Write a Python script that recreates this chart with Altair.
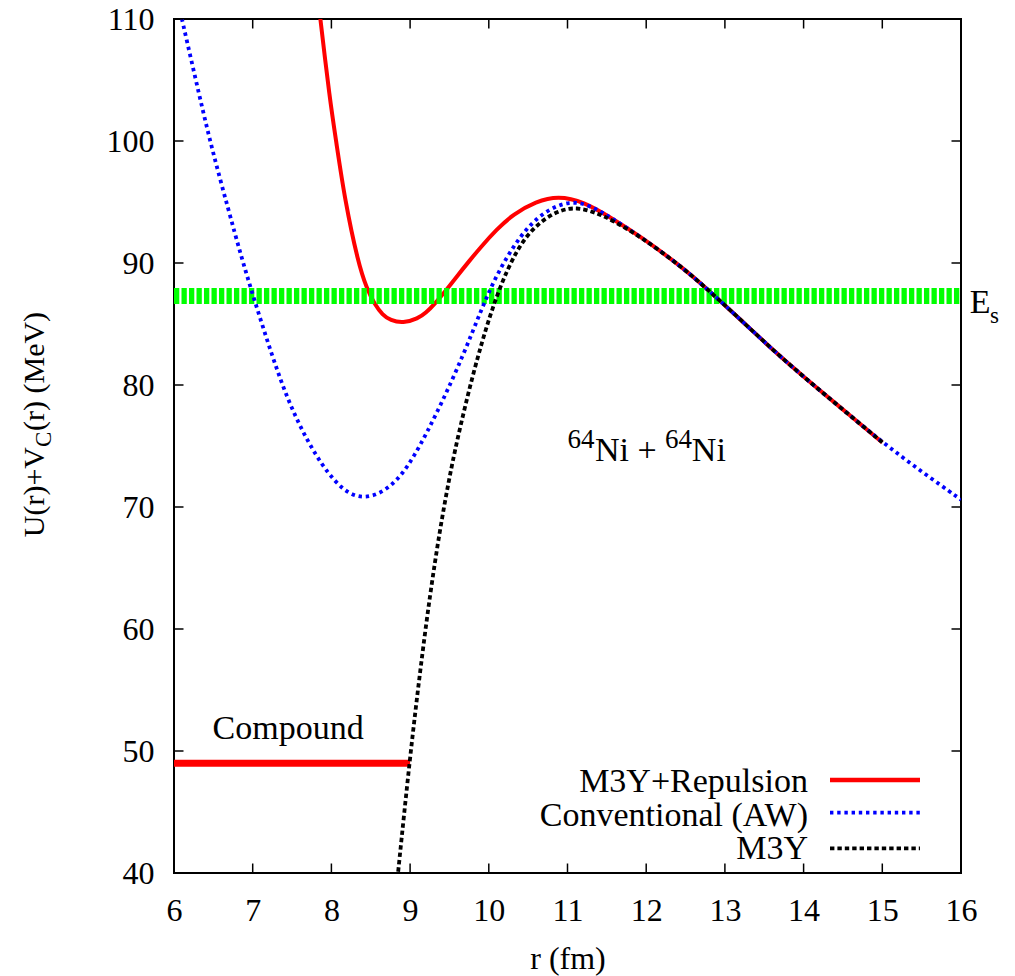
import altair as alt
import pandas as pd

# ---------------- data ----------------
red_r = [7.80, 7.86, 7.98, 8.06, 8.17, 8.34, 8.45, 8.55, 8.65, 8.75, 8.91, 9.10, 9.20,
         9.32, 9.45, 9.60, 9.75, 9.89, 10.10, 10.31, 10.60, 10.88, 11.20, 11.58,
         11.92, 12.43, 12.77, 13.20, 13.62, 14.05, 14.46, 15.00]
red_v = [113.3, 110.0, 103.4, 100.0, 95.2, 90.0, 87.9, 86.6, 85.75, 85.3, 85.05, 85.45, 85.9,
         86.7, 87.7, 88.95, 90.15, 91.25, 92.75, 94.0, 95.05, 95.5, 95.05, 93.6,
         92.2, 89.8, 87.9, 85.35, 82.8, 80.4, 78.2, 75.3]

blue_r = [6.00, 6.10, 6.33, 6.48, 6.69, 6.86, 7.01, 7.24, 7.47, 7.79, 8.13, 8.43, 8.77,
          9.04, 9.38, 9.68, 9.89, 10.10, 10.40, 10.69, 11.03, 11.30, 11.58, 11.92,
          12.43, 12.77, 13.20, 13.62, 14.05, 14.46, 15.00, 15.50, 16.00]
blue_v = [112.9, 110.0, 103.5, 99.4, 94.4, 90.4, 87.2, 82.5, 78.3, 74.2, 71.3, 70.55, 71.6,
          73.9, 78.2, 82.5, 85.95, 89.1, 92.3, 94.2, 95.15, 94.7, 93.6, 92.2,
          89.8, 87.9, 85.35, 82.8, 80.4, 78.2, 75.3, 72.9, 70.6]

black_r = [8.80, 8.85, 9.00, 9.13, 9.25, 9.38, 9.49, 9.59, 9.80, 10.02, 10.23, 10.48,
           10.82, 11.12, 11.41, 11.58, 11.92, 12.43, 12.77, 13.20, 13.62, 14.05, 14.46, 15.00]
black_v = [37.1, 40.2, 49.6, 56.7, 62.7, 68.2, 72.1, 75.3, 81.0, 85.9, 89.5, 92.45,
           94.2, 94.65, 94.0, 93.45, 92.2, 89.8, 87.9, 85.35, 82.8, 80.4, 78.2, 75.3]

compound_r = [6.0, 9.0]
compound_v = [49.0, 49.0]

es_r = [6.0, 16.0]
es_v = [87.3, 87.3]

xticks = [6, 7, 8, 9, 10, 11, 12, 13, 14, 15, 16]
yticks = [40, 50, 60, 70, 80, 90, 100, 110]

series_names = ["M3Y+Repulsion", "Conventional (AW)", "M3Y"]

# ---------------- styling ----------------
FONT = "Liberation Serif"
W, H = 787, 854
TICK = 9.5
LBL = 34

xs = alt.Scale(domain=[6, 16], nice=False, zero=False)
ys = alt.Scale(domain=[40, 110], nice=False, zero=False)

xaxis = alt.Axis(values=xticks, format="d", title="r (fm)", grid=False, domain=False,
                 ticks=False, tickSize=0, labelFont=FONT, labelFontSize=32,
                 labelColor="black", labelPadding=22, labelFlush=False,
                 labelOverlap=False, titleFont=FONT, titleFontSize=32,
                 titleFontWeight="normal", titleColor="black",
                 titleBaseline="alphabetic", titleY=95)
yaxis = alt.Axis(values=yticks, format="d", title=None, grid=False, domain=False,
                 ticks=False, tickSize=0, labelFont=FONT, labelFontSize=32,
                 labelColor="black", labelPadding=20, labelFlush=False,
                 labelOverlap=False)

X = lambda: alt.X("r:Q", scale=xs, axis=xaxis)
Y = lambda: alt.Y("v:Q", scale=ys, axis=yaxis)


def df(r, v):
    return pd.DataFrame({"r": r, "v": v})


one = pd.DataFrame({"a": [0]})

BLUE_STYLE = dict(color="#0000ff", strokeWidth=3.8, strokeDash=[3.4, 3.8], strokeCap="butt")
BLACK_STYLE = dict(color="black", strokeWidth=3.8, strokeDash=[4.4, 3.0], strokeCap="butt")

red = alt.Chart(df(red_r, red_v)).mark_line(
    color="#ff0000", strokeWidth=4, interpolate="basis", clip=True,
    strokeJoin="round").encode(x=X(), y=Y())

compound = alt.Chart(df(compound_r, compound_v)).mark_line(
    color="#ff0000", strokeWidth=7, clip=True).encode(x=X(), y=Y())

es_band = alt.Chart(df(es_r, es_v)).mark_line(
    color="#00ff00", strokeWidth=16, strokeDash=[5.3, 2.2], strokeCap="butt",
    clip=True).encode(x=X(), y=Y())

blue = alt.Chart(df(blue_r, blue_v)).mark_line(
    interpolate="basis", clip=True, **BLUE_STYLE).encode(x=X(), y=Y())

black = alt.Chart(df(black_r, black_v)).mark_line(
    interpolate="basis", clip=True, **BLACK_STYLE).encode(x=X(), y=Y())

# inward ticks on all four sides
xt = pd.DataFrame({"r": xticks})
yt = pd.DataFrame({"v": yticks})
tick_style = dict(color="black", strokeWidth=1.5)
tb = alt.Chart(xt).mark_rule(**tick_style).encode(
    x=X(), y=alt.value(H - TICK), y2=alt.value(H))
tt = alt.Chart(xt).mark_rule(**tick_style).encode(
    x=X(), y=alt.value(0), y2=alt.value(TICK))
tl = alt.Chart(yt).mark_rule(**tick_style).encode(
    y=Y(), x=alt.value(0), x2=alt.value(TICK))
tr = alt.Chart(yt).mark_rule(**tick_style).encode(
    y=Y(), x=alt.value(W - TICK), x2=alt.value(W))

# annotations (data coordinates)
def label(text, r, v, size, align="left"):
    return alt.Chart(pd.DataFrame({"r": [r], "v": [v], "t": [text]})).mark_text(
        font=FONT, fontSize=size, color="black", align=align,
        baseline="alphabetic").encode(x=X(), y=Y(), text="t:N")

compound_lbl = label("Compound", 7.45, 50.98, LBL, align="center")
ni1 = label("64", 11.00, 74.85, 27)
ni2 = label("Ni +", 11.35, 73.81, LBL)
ni3 = label("64", 12.24, 74.85, 27)
ni4 = label("Ni", 12.58, 73.81, LBL)
es1 = label("E", 16.11, 85.93, LBL)
es2 = label("s", 16.37, 85.08, 23)

# y-axis title with subscript (pixel placement, rotated)
def ptext(text, x, y, size, align, angle=0):
    return alt.Chart(one).mark_text(
        font=FONT, fontSize=size, color="black", align=align,
        baseline="alphabetic", angle=angle).encode(
        x=alt.value(x), y=alt.value(y), text=alt.value(text))

yt1 = ptext("U(r)+V", -130, 428, 30, "right", 270)
yt2 = ptext("C", -123, 428, 23, "left", 270)
yt3 = ptext("(r) (MeV)", -130, 412, 30, "left", 270)

# legend (manual: labels to the left of samples)
leg_rows = [
    (series_names[0], 772.7, 761.0, dict(color="#ff0000", strokeWidth=4.5)),
    (series_names[1], 806.7, 793.7, BLUE_STYLE),
    (series_names[2], 840.3, 829.3, BLACK_STYLE),
]
leg_layers = []
for name, base_y, line_y, style in leg_rows:
    leg_layers.append(ptext(name, 634, base_y, LBL, "right"))
    leg_layers.append(alt.Chart(one).mark_rule(**style).encode(
        x=alt.value(656), x2=alt.value(746), y=alt.value(line_y)))

chart = alt.layer(
    red, compound, es_band, blue, black,
    tb, tt, tl, tr,
    compound_lbl, ni1, ni2, ni3, ni4, es1, es2,
    yt1, yt2, yt3,
    *leg_layers,
).properties(
    width=W, height=H,
    autosize=alt.AutoSizeParams(type="none"),
    padding={"left": 174, "top": 19, "right": 54, "bottom": 103},
    background="white",
).configure_view(
    stroke="black", strokeWidth=2
)

chart.save("out.html", embed_options={"renderer": "svg", "actions": False})
